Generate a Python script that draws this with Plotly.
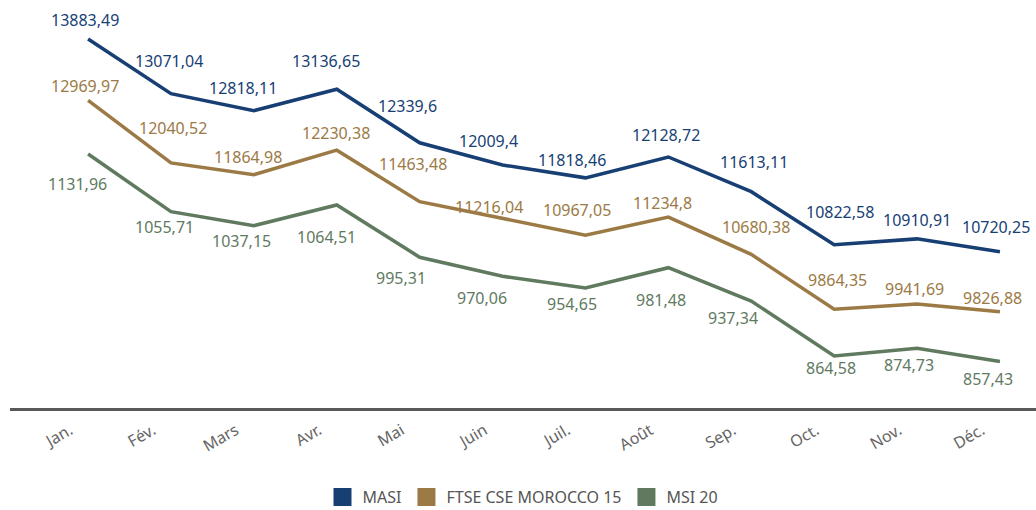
import plotly.graph_objects as go

months = ["Jan.", "Fév.", "Mars", "Avr.", "Mai", "Juin", "Juil.", "Août", "Sep.", "Oct.", "Nov.", "Déc."]
masi = [13883.49, 13071.04, 12818.11, 13136.65, 12339.6, 12009.4, 11818.46, 12128.72, 11613.11, 10822.58, 10910.91, 10720.25]
ftse = [12969.97, 12040.52, 11864.98, 12230.38, 11463.48, 11216.04, 10967.05, 11234.8, 10680.38, 9864.35, 9941.69, 9826.88]
msi20 = [1131.96, 1055.71, 1037.15, 1064.51, 995.31, 970.06, 954.65, 981.48, 937.34, 864.58, 874.73, 857.43]

# label offsets in pixels (style only)
masi_dy = [19, 33, 23, 28, 37, 24, 18, 22, 30, 33, 19, 25]
masi_dx = [-3, -2, -11, -11, -12, -14, -13, -2, 3, 6, 0, -4]
ftse_dy = [14, 35, 18, 17, 38, 11, 25, 14, 27, 29, 15, 14]
ftse_dx = [-3, 2, -6, -1, -7, -14, -8, -6, 5, 3, -3, -7]
msi_dy = [-30, -15, -15, -32, -21, -22, -16, -32, -17, -12, -17, -18]
msi_dx = [-11, -6, -12, -10, -19, -21, -13, -7, -18, -3, -8, -12]

C_MASI = "#173f74"
C_FTSE = "#9c7a45"
C_MSI = "#5f7a5f"
FONT = "Noto Sans"

fig = go.Figure()
fig.add_trace(go.Scatter(x=months, y=masi, mode="lines", line=dict(color=C_MASI, width=3.5),
                         showlegend=False, yaxis="y", hoverinfo="skip"))
fig.add_trace(go.Scatter(x=months, y=ftse, mode="lines", line=dict(color=C_FTSE, width=3.5),
                         showlegend=False, yaxis="y", hoverinfo="skip"))
fig.add_trace(go.Scatter(x=months, y=msi20, mode="lines", line=dict(color=C_MSI, width=3.5),
                         showlegend=False, yaxis="y2", hoverinfo="skip"))

for name, col in [("MASI", C_MASI), ("FTSE CSE MOROCCO 15", C_FTSE), ("MSI 20", C_MSI)]:
    fig.add_trace(go.Scatter(x=[None], y=[None], mode="markers", name=name,
                             marker=dict(symbol="square", size=16, color=col,
                                         line=dict(color=col, width=2))))

def fmt(v):
    return str(v).replace(".", ",")

for vals, dys, dxs, col, yref in [(masi, masi_dy, masi_dx, C_MASI, "y"),
                                  (ftse, ftse_dy, ftse_dx, C_FTSE, "y"),
                                  (msi20, msi_dy, msi_dx, C_MSI, "y2")]:
    for m, v, dy, dx in zip(months, vals, dys, dxs):
        fig.add_annotation(x=m, y=v, xref="x", yref=yref, text=fmt(v), showarrow=False,
                           xanchor="center", yanchor="middle", yshift=dy, xshift=dx,
                           font=dict(family=FONT, size=16, color=col))

fig.update_layout(
    width=1036, height=510,
    margin=dict(l=10, r=0, t=10, b=102, autoexpand=False),
    paper_bgcolor="white", plot_bgcolor="white",
    font=dict(family=FONT),
    xaxis=dict(type="category", range=[-0.942, 11.435], showline=True, linewidth=3,
               linecolor="#595959", showgrid=False, zeroline=False, ticks="",
               tickangle=-30, ticklabelshift=-18, ticklabelstandoff=4, automargin=False,
               tickfont=dict(family=FONT, size=16, color="#666666")),
    yaxis=dict(range=[8395.7, 14314.8], visible=False),
    yaxis2=dict(range=[795.76, 1322.6], visible=False, overlaying="y"),
    legend=dict(orientation="h", x=0.5, xanchor="center", y=-0.224, yanchor="middle",
                font=dict(family=FONT, size=16, color="#555555"), itemclick=False),
)

fig.write_html("out.html", config={"displayModeBar": False},
               post_script="document.body.style.margin='0px';")
